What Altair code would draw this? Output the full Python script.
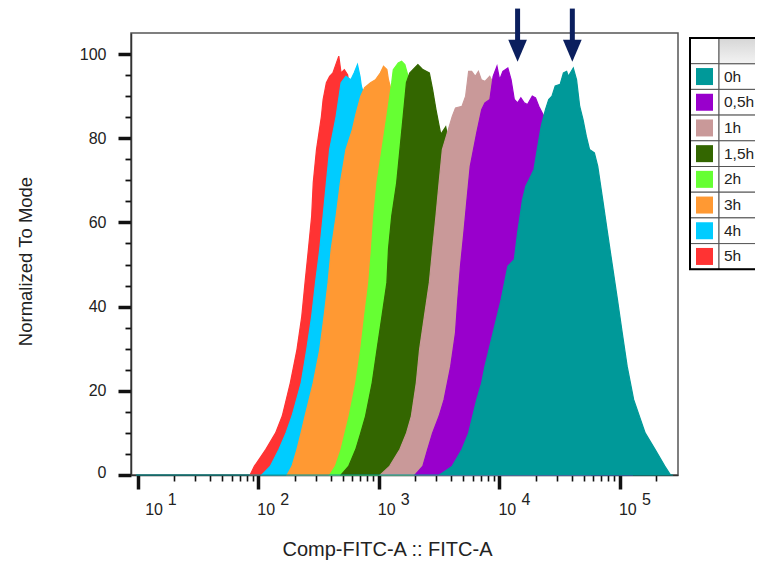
import math
import altair as alt
import pandas as pd

# ---------------- data ----------------
series = ["0h", "0,5h", "1h", "1,5h", "2h", "3h", "4h", "5h"]
colors = ["#009999", "#9900cc", "#c99999", "#336600", "#66ff33", "#ff9933", "#00ccff", "#ff3333"]

# x = log10(Comp-FITC-A), y = Normalized To Mode
dec_0h = [0.986, 3.50, 3.527, 3.609, 3.690, 3.745, 3.812, 3.853, 3.880, 3.948, 4.015, 4.070, 4.124, 4.151,
          4.192, 4.219, 4.247, 4.287, 4.314, 4.347, 4.382, 4.409, 4.436, 4.463, 4.504, 4.531, 4.558, 4.572,
          4.613, 4.640, 4.666, 4.694, 4.721, 4.748, 4.788, 4.816, 4.857, 4.897, 4.938, 4.979, 5.019, 5.060,
          5.114, 5.209, 5.291, 5.372, 5.42, 5.44]
val_0h = [0, 0, 0.5, 2.1, 6.1, 10.0, 17.9, 21.9, 25.8, 33.8, 41.7, 49.6, 51.2, 57.5,
          65.4, 68.6, 70.2, 72.6, 77.3, 82.9, 86.8, 89.2, 90.0, 92.4, 92.8, 95.5, 95.9, 94.7,
          96.7, 93.9, 87.6, 84.4, 80.5, 77.3, 76.5, 73.3, 65.4, 57.5, 49.6, 41.7, 33.8, 25.8,
          17.9, 10.0, 6.1, 2.1, 0, 0]

dec_05h = [3.30, 3.365, 3.405, 3.446, 3.50, 3.541, 3.596, 3.636, 3.655, 3.677, 3.705, 3.731, 3.758, 3.812,
           3.853, 3.880, 3.921, 3.948, 3.980, 4.002, 4.029, 4.070, 4.097, 4.124, 4.151, 4.178, 4.206, 4.233,
           4.273, 4.300, 4.327, 4.363, 4.42, 4.5, 4.6, 4.7, 4.8, 4.9, 5.0, 5.1]
val_05h = [0, 2.1, 6.1, 10.0, 14.0, 17.9, 25.8, 33.8, 41.7, 49.6, 57.5, 65.4, 73.3, 81.3,
           86.8, 88.4, 89.2, 94.7, 97.1, 93.9, 95.9, 96.7, 93.9, 89.2, 88.4, 89.6, 88.4, 88.0,
           90.0, 89.6, 87.6, 85.6, 80, 70, 55, 40, 25, 12, 4, 0]

dec_1h = [3.012, 3.09, 3.175, 3.23, 3.270, 3.311, 3.338, 3.378, 3.419, 3.446, 3.474, 3.500, 3.527, 3.609,
          3.636, 3.690, 3.72, 3.745, 3.77, 3.80, 3.826, 3.85, 3.88, 3.92, 3.95, 4.05, 4.15, 4.25, 4.35,
          4.45, 4.55, 4.65, 4.75]
val_1h = [0, 2.1, 6.1, 10.0, 14.0, 21.9, 29.8, 37.7, 45.7, 53.6, 61.5, 69.4, 77.3, 85.2,
          87.2, 87.6, 90.0, 95.9, 95.9, 94.7, 95.9, 93.9, 93.5, 94.7, 93, 85, 70, 52, 35,
          20, 9, 3, 0]

dec_15h = [2.687, 2.75, 2.809, 2.85, 2.890, 2.945, 2.985, 3.026, 3.067, 3.080, 3.107, 3.148, 3.175, 3.202,
           3.229, 3.256, 3.283, 3.324, 3.365, 3.419, 3.446, 3.474, 3.514, 3.555, 3.576, 3.62, 3.70, 3.80,
           3.90, 4.0, 4.1, 4.2, 4.3]
val_15h = [0, 2.1, 6.1, 10.0, 14.0, 21.9, 29.8, 37.7, 45.7, 53.6, 61.5, 69.4, 77.3, 85.2,
           93.2, 95.5, 96.3, 97.5, 96.3, 95.5, 91.6, 86.8, 80.9, 82.7, 79.7, 72, 60, 45,
           30, 17, 8, 3, 0]

dec_2h = [2.592, 2.64, 2.687, 2.72, 2.754, 2.809, 2.850, 2.882, 2.917, 2.939, 2.958, 2.985, 3.026, 3.067,
          3.107, 3.120, 3.161, 3.189, 3.216, 3.243, 3.30, 3.40, 3.50, 3.60, 3.70, 3.80, 3.90, 4.0]
val_2h = [0, 2.1, 6.1, 10.0, 14.0, 21.9, 29.8, 37.7, 45.7, 53.6, 61.5, 69.4, 77.3, 85.2,
          93.2, 96.3, 97.9, 98.3, 97.5, 94.7, 88, 72, 55, 38, 22, 10, 3, 0]

dec_3h = [2.239, 2.28, 2.321, 2.355, 2.388, 2.456, 2.510, 2.546, 2.579, 2.605, 2.646, 2.681, 2.727, 2.780,
          2.809, 2.850, 2.882, 2.931, 2.972, 3.012, 3.039, 3.067, 3.080, 3.094, 3.15, 3.25, 3.35, 3.45,
          3.55, 3.65, 3.75, 3.85]
val_3h = [0, 2.1, 6.1, 10.0, 14.0, 21.9, 29.8, 37.7, 45.7, 53.6, 61.5, 69.4, 77.3, 82.0,
          85.6, 90.0, 92.0, 93.2, 93.9, 95.5, 97.1, 96.3, 93.9, 92.4, 85, 68, 50, 33,
          18, 8, 2, 0]

dec_4h = [2.030, 2.10, 2.172, 2.23, 2.280, 2.356, 2.402, 2.443, 2.475, 2.510, 2.538, 2.565, 2.592, 2.646,
          2.687, 2.727, 2.768, 2.795, 2.823, 2.844, 2.855, 2.90, 3.0, 3.1, 3.2, 3.3, 3.4, 3.5, 3.6]
val_4h = [0, 2.1, 6.1, 10.0, 14.0, 21.9, 29.8, 37.7, 45.7, 53.6, 61.5, 69.4, 77.3, 85.2,
          93.2, 94.7, 93.9, 95.5, 97.5, 94.7, 92.4, 88, 75, 58, 40, 25, 12, 4, 0]

dec_5h = [1.932, 1.968, 2.063, 2.144, 2.199, 2.266, 2.321, 2.361, 2.388, 2.416, 2.443, 2.456, 2.483, 2.524,
          2.538, 2.565, 2.592, 2.619, 2.668, 2.687, 2.714, 2.741, 2.80, 2.90, 3.0, 3.1, 3.2, 3.3, 3.4, 3.5]
val_5h = [0, 2.1, 6.1, 10.0, 14.0, 21.9, 29.8, 37.7, 45.7, 53.6, 61.5, 69.4, 77.3, 85.2,
          89.2, 93.2, 94.7, 95.5, 99.5, 95.5, 96.3, 95.1, 85, 68, 50, 33, 18, 8, 2, 0]

curves = {"0h": (dec_0h, val_0h), "0,5h": (dec_05h, val_05h), "1h": (dec_1h, val_1h),
          "1,5h": (dec_15h, val_15h), "2h": (dec_2h, val_2h), "3h": (dec_3h, val_3h),
          "4h": (dec_4h, val_4h), "5h": (dec_5h, val_5h)}

decades = [1, 2, 3, 4, 5]
arrow_dec = [4.151, 4.605]
arrow_top = [110.8, 110.8]
arrow_shaft_end = [103.0, 103.0]
arrow_head = [100.8, 100.8]

x_axis_title = "Comp-FITC-A :: FITC-A"
y_axis_title = "Normalized To Mode"

# ---------------- build tables ----------------
rows = []
for s in series:
    d, v = curves[s]
    for a, b in zip(d, v):
        rows.append({"series": s, "dec": a, "val": b})
df = pd.DataFrame(rows)

xmin, xmax = 0.986, 5.44
x_ticks = []
for d in range(1, 6):
    for m in range(1, 10):
        t = d + math.log10(m)
        if xmin <= t <= xmax:
            x_ticks.append(round(t, 5))

FONT = "Liberation Sans"
TXT = "#222222"
W, H = 547, 442

xscale = alt.Scale(domain=[xmin, xmax], nice=False, zero=False)
yscale = alt.Scale(domain=[0, 105], nice=False, zero=False)

x_axis = alt.Axis(
    values=x_ticks, labels=False, grid=False,
    domainColor="#333333", domainWidth=1.5,
    tickColor="#111111",
    tickWidth={"condition": {"test": "abs(datum.value - round(datum.value)) < 0.001", "value": 3.5}, "value": 1.6},
    tickSize={"condition": {"test": "abs(datum.value - round(datum.value)) < 0.001", "value": 14}, "value": 6},
    title=x_axis_title, titleFont=FONT, titleFontSize=20, titleFontWeight="normal", titleColor=TXT,
    titleX=256, titleY=80, titleBaseline="alphabetic", titleAlign="center",
)
y_axis = alt.Axis(
    values=list(range(0, 101, 5)), grid=False,
    domainColor="#333333", domainWidth=1.5,
    tickColor="#111111",
    tickWidth={"condition": {"test": "datum.value % 20 == 0", "value": 3.5}, "value": 1.8},
    tickSize={"condition": {"test": "datum.value % 20 == 0", "value": 13}, "value": 6},
    labelExpr="datum.value % 20 == 0 ? datum.label : ''",
    labelFont=FONT, labelFontSize=16, labelColor=TXT, labelPadding=12,
    labelOffset={"condition": {"test": "datum.value == 0", "value": -3}, "value": 0},
    title=y_axis_title, titleFont=FONT, titleFontSize=18.5, titleFontWeight="normal", titleColor=TXT,
    titleX=-100, titleY=228, titleAngle=270, titleBaseline="alphabetic", titleAlign="center",
)

X = lambda f: alt.X(f, scale=xscale, axis=x_axis)
Y = lambda f: alt.Y(f, scale=yscale, axis=y_axis, stack=None)

layers = []
for s, c in reversed(list(zip(series, colors))):
    layers.append(
        alt.Chart(df).transform_filter(alt.datum.series == s)
        .mark_area(color=c, stroke=c, strokeWidth=1.2, opacity=1, interpolate="linear")
        .encode(x=X("dec:Q"), y=Y("val:Q"))
    )

dec_df = pd.DataFrame({"dec": decades, "base": ["10"] * len(decades), "exp": [str(d) for d in decades]})
lab_style = dict(font=FONT, fontSize=16, color=TXT, align="left", baseline="alphabetic")
for sel, dx_b, dx_e in [("datum.dec == 1", 7.5, 30), ("datum.dec > 1", -1, 22)]:
    layers.append(
        alt.Chart(dec_df).transform_filter(sel).mark_text(dx=dx_b, **lab_style)
        .encode(x=X("dec:Q"), y=alt.value(H + 40), text="base:N")
    )
    layers.append(
        alt.Chart(dec_df).transform_filter(sel).mark_text(dx=dx_e, **lab_style)
        .encode(x=X("dec:Q"), y=alt.value(H + 30), text="exp:N")
    )

arr_df = pd.DataFrame({"dec": arrow_dec, "top": arrow_top, "end": arrow_shaft_end, "head": arrow_head})
NAVY = "#0b1f5e"
layers.append(
    alt.Chart(arr_df).mark_bar(size=5, color=NAVY)
    .encode(x=X("dec:Q"), y=Y("top:Q"), y2="end:Q")
)
layers.append(
    alt.Chart(arr_df).mark_point(shape="M-0.85,-1L0.85,-1L0,1Z", size=484, filled=True, color=NAVY, opacity=1)
    .encode(x=X("dec:Q"), y=Y("head:Q"))
)

main = alt.layer(*layers).properties(
    width=W, height=H, view=alt.ViewBackground(stroke="#555555", strokeWidth=1.5)
)

# ---------------- legend table ----------------
LW, LH = 66, 240
lx = alt.Scale(domain=[-1 / 29, 65 / 29], nice=False, zero=False)
ly = alt.Scale(domain=[-5 / 25.7, 235 / 25.7], nice=False, zero=False, reverse=True)

leg = pd.DataFrame({"series": series, "r": list(range(1, len(series) + 1))})
leg["yc"] = leg["r"] + 0.5
leg["xc"] = 0.5
leg["xt"] = 1.0
cells_a = pd.DataFrame({"x0": 0, "x1": 1, "y0": list(range(0, 9)), "y1": list(range(1, 10))})
cells_b = pd.DataFrame({"x0": 1, "x1": 3, "y0": list(range(1, 9)), "y1": list(range(2, 10))})
head_b = pd.DataFrame({"x0": [1], "x1": [3], "y0": [0], "y1": [1]})
outer = pd.DataFrame({"x0": [0], "x1": [3], "y0": [0], "y1": [9]})

def rect_enc():
    return dict(x=alt.X("x0:Q", scale=lx, axis=None), x2="x1:Q",
                y=alt.Y("y0:Q", scale=ly, axis=None), y2="y1:Q")

grad = alt.Gradient(gradient="linear",
                    stops=[alt.GradientStop(color="#d6d6d6", offset=0), alt.GradientStop(color="#f3f3f3", offset=1)],
                    x1=0, x2=0, y1=0, y2=1)

legend = alt.layer(
    alt.Chart(cells_a).mark_rect(fill="white", stroke="#555555", strokeWidth=1).encode(**rect_enc()),
    alt.Chart(cells_b).mark_rect(fill="white", stroke="#555555", strokeWidth=1, clip=True).encode(**rect_enc()),
    alt.Chart(head_b).mark_rect(fill=grad, stroke="#555555", strokeWidth=1, clip=True).encode(**rect_enc()),
    alt.Chart(leg).mark_square(size=289, filled=True, opacity=1).encode(
        x=alt.X("xc:Q", scale=lx, axis=None),
        y=alt.Y("yc:Q", scale=ly, axis=None),
        color=alt.Color("series:N", scale=alt.Scale(domain=series, range=colors), legend=None),
    ),
    alt.Chart(leg).mark_text(align="left", baseline="middle", dx=5, font=FONT, fontSize=15.5, color=TXT)
    .encode(x=alt.X("xt:Q", scale=lx, axis=None), y=alt.Y("yc:Q", scale=ly, axis=None), text="series:N"),
    alt.Chart(outer).mark_rect(fillOpacity=0, fill="white", stroke="black", strokeWidth=2, clip=True).encode(**rect_enc()),
).properties(width=LW, height=LH, view=alt.ViewBackground(strokeOpacity=0))

chart = alt.hconcat(main, legend, spacing=11, bounds="flush").properties(
    autosize=alt.AutoSizeParams(type="none"),
    padding={"left": 123, "top": 25, "right": 624, "bottom": 528},
).configure(font=FONT).configure_view(strokeWidth=0)

chart.save("out.html", embed_options={"renderer": "svg", "actions": False})
